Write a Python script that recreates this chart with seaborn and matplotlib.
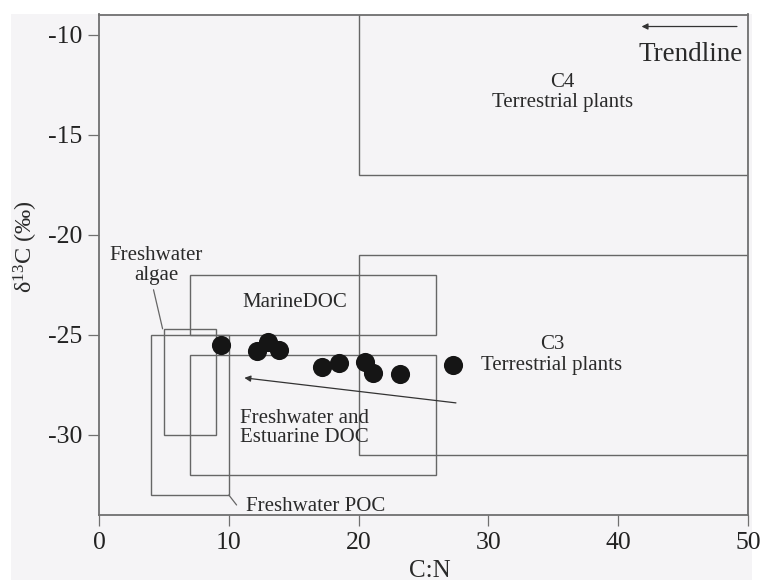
import matplotlib
matplotlib.use("Agg")
import matplotlib.pyplot as plt
import matplotlib.patches as mpatches
import seaborn as sns
import pandas as pd

# Sample C:N ratios and d13C values
cn_ratio = [9.4, 12.2, 13.0, 13.9, 17.2, 18.5, 20.5, 21.1, 23.2, 27.3]
d13c = [-25.5, -25.8, -25.35, -25.75, -26.6, -26.4, -26.35, -26.9, -26.95, -26.5]

# Source end-member fields: (name, x_min, x_max, y_min, y_max)
field_names = ["C4 Terrestrial plants", "C3 Terrestrial plants", "MarineDOC",
               "Freshwater algae", "Freshwater POC", "Freshwater and Estuarine DOC"]
field_x0 = [20, 20, 7, 5, 4, 7]
field_x1 = [50, 50, 26, 9, 10, 26]
field_y0 = [-17, -31, -25, -30, -33, -32]
field_y1 = [-9, -21, -22, -24.7, -25, -26]

x_ticks = [0, 10, 20, 30, 40, 50]
y_ticks = [-10, -15, -20, -25, -30]

sns.set_style("ticks")
plt.rcParams["font.family"] = ["Liberation Serif", "DejaVu Serif"]
plt.rcParams["mathtext.fontset"] = "custom"
plt.rcParams["mathtext.rm"] = "Liberation Serif"
plt.rcParams["mathtext.it"] = "Liberation Serif:italic"

W, H = 761, 583
fig = plt.figure(figsize=(W / 100, H / 100), dpi=100, facecolor="white")

# light grey page backdrop
fig.patches.append(mpatches.Rectangle((11 / W, 3 / H), (752 - 11) / W, (583 - 14 - 3) / H,
                                      transform=fig.transFigure, facecolor="#f5f4f6",
                                      edgecolor="none", zorder=-10))

ax = fig.add_axes([99 / W, 68 / H, 649 / W, 500.5 / H])
ax.set_facecolor("#f5f4f6")

box_color = "#666666"
for name, x0, x1, y0, y1 in zip(field_names, field_x0, field_x1, field_y0, field_y1):
    ax.add_patch(mpatches.Rectangle((x0, y0), x1 - x0, y1 - y0, fill=False,
                                    edgecolor=box_color, lw=1.0, zorder=2))

df = pd.DataFrame({"C:N": cn_ratio, "d13C": d13c})
sns.scatterplot(data=df, x="C:N", y="d13C", ax=ax, s=190, color="#151515",
                edgecolor="#151515", linewidth=0, zorder=5, legend=False)

ax.set_xlim(0, 50)
ax.set_ylim(-34, -9)
ax.set_xticks(x_ticks)
ax.set_yticks(y_ticks)
ax.set_xticklabels([str(v) for v in x_ticks])
ax.set_yticklabels([str(v) for v in y_ticks])
ax.tick_params(axis="both", labelsize=18.5, length=8, width=0.9, color="#707070",
               labelcolor="#222222", pad=4)
for side in ["left", "bottom", "right", "top"]:
    ax.spines[side].set_visible(True)
    ax.spines[side].set_color("#707070")
    ax.spines[side].set_linewidth(1.3)
ax.set_xlabel("")
ax.set_ylabel("")

txt = dict(color="#2a2a2a", fontsize=15)
ax.text(35.7, -12.9, "C4\nTerrestrial plants", ha="center", va="center",
        linespacing=1.1, **txt)
ax.text(34.9, -26.0, "C3\nTerrestrial plants", ha="center", va="center",
        linespacing=1.1, **txt)
ax.text(15.1, -23.4, "MarineDOC", ha="center", va="center", **txt)
ax.text(4.4, -21.55, "Freshwater\nalgae", ha="center", va="center",
        linespacing=1.05, **txt)
ax.text(10.9, -29.65, "Freshwater and\nEstuarine DOC", ha="left", va="center",
        linespacing=1.05, **txt)
ax.text(11.3, -33.6, "Freshwater POC", ha="left", va="center", clip_on=False, **txt)

# leader lines from labels to fields
ax.plot([4.2, 4.9], [-22.75, -24.7], color=box_color, lw=0.9, zorder=2)
ax.plot([10.0, 10.6], [-33.0, -33.5], color=box_color, lw=0.9, zorder=2, clip_on=False)

# trend arrow through the samples
arrow_kw = dict(arrowstyle="-|>", mutation_scale=9, lw=0.9, color="#333333",
                shrinkA=0, shrinkB=0)
ax.annotate("", xy=(11.2, -27.15), xytext=(27.5, -28.4), arrowprops=arrow_kw, zorder=4)

# legend key for the trend arrow
ax.annotate("", xy=(41.8, -9.6), xytext=(49.15, -9.6), arrowprops=arrow_kw)
ax.text(49.6, -11.0, "Trendline", ha="right", va="center", fontsize=19.5, color="#2a2a2a")

fig.text(26 / W, 1 - 247 / H, r"$\mathregular{\delta^{13}}$C (‰)", rotation=90,
         ha="center", va="center", fontsize=17.5, color="#2a2a2a")
fig.text(430 / W, 1 - 560 / H, "C:N", ha="center", va="top", fontsize=18,
         color="#2a2a2a")

fig.savefig("out.png", dpi=100, facecolor="white")
